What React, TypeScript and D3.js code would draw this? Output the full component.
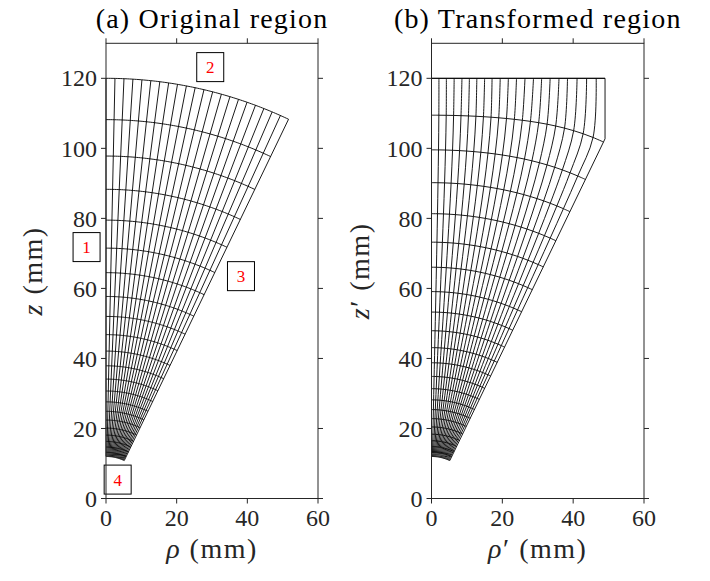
import React, { useMemo } from 'react';
import * as d3 from 'd3';

const WIDTH = 710;
const HEIGHT = 581;

// ---- Data ----
// radii of the constant-r arcs in the original region (mm), inner -> outer
const ARC_RADII = [12.0, 13.2, 14.7, 16.3, 18.1, 20.1, 22.4, 24.9, 27.6, 30.7, 34.1, 37.9, 42.1, 46.8, 52.0, 57.7, 64.5, 71.5, 79.5, 88.3, 97.8, 108.2, 120.0];
// polar angles of the rays (deg from the z axis)
const RAY_ANGLES_DEG = [0, 1.21, 2.43, 3.64, 4.86, 6.07, 7.29, 8.5, 9.71, 10.93, 12.14, 13.36, 14.57, 15.79, 17.0, 18.21, 19.43, 20.64, 21.86, 23.07, 24.29, 25.5];
// where the rays end on the flat top of the transformed region (mm)
const TOP_RHO_T = [0, 2.1, 4.2, 6.4, 8.6, 10.7, 12.8, 15.0, 17.1, 19.4, 21.7, 24.0, 26.4, 28.8, 31.1, 33.5, 36.0, 38.4, 41.1, 43.8, 46.5, 49.0];
const TOP_Z_T = 120;
const CYL_RHO_T = 49.0;

const X_TICKS = [0, 20, 40, 60];
const Y_TICKS = [0, 20, 40, 60, 80, 100, 120];

const REGION_LABELS = ['1', '2', '3', '4'];
const REGION_LABEL_RHO = [-5.5, 29.5, 38.2, 3.3];
const REGION_LABEL_Z = [71.8, 123.2, 63.5, 5.4];

const FONT = "'Liberation Serif', 'Times New Roman', 'DejaVu Serif', Times, serif";
const AXIS_COLOR = '#262626';

type Pt = [number, number];

function solveTransformed(): Pt[][] {
  const nI = ARC_RADII.length;
  const nJ = RAY_ANGLES_DEG.length;
  const th = RAY_ANGLES_DEG.map((d) => (d * Math.PI) / 180);
  const thm = th[nJ - 1];
  const xi = ARC_RADII.map((r) => Math.log(r));
  const dEta = thm / (nJ - 1);
  const b = 1 / (dEta * dEta);
  const rho: number[][] = [];
  const z: number[][] = [];
  for (let i = 0; i < nI; i++) {
    rho.push([]);
    z.push([]);
    for (let j = 0; j < nJ; j++) {
      rho[i].push(ARC_RADII[i] * Math.sin(th[j]));
      z[i].push(ARC_RADII[i] * Math.cos(th[j]));
    }
  }
  for (let j = 0; j < nJ; j++) {
    rho[nI - 1][j] = TOP_RHO_T[j];
    z[nI - 1][j] = TOP_Z_T;
  }
  const c0: Pt = [ARC_RADII[0] * Math.sin(thm), ARC_RADII[0] * Math.cos(thm)];
  const c1: Pt = [CYL_RHO_T, CYL_RHO_T / Math.tan(thm)];
  const c2: Pt = [CYL_RHO_T, TOP_Z_T];
  const projSeg = (p: Pt, a: Pt, q: Pt): Pt => {
    const dx = q[0] - a[0], dy = q[1] - a[1];
    let t = ((p[0] - a[0]) * dx + (p[1] - a[1]) * dy) / (dx * dx + dy * dy);
    t = Math.max(0, Math.min(1, t));
    return [a[0] + t * dx, a[1] + t * dy];
  };
  const proj = (p: Pt): Pt => {
    const p1 = projSeg(p, c0, c1);
    const p2 = projSeg(p, c1, c2);
    const d1 = (p1[0] - p[0]) ** 2 + (p1[1] - p[1]) ** 2;
    const d2 = (p2[0] - p[0]) ** 2 + (p2[1] - p[1]) ** 2;
    return d1 <= d2 ? p1 : p2;
  };
  for (let it = 0; it < 20000; it++) {
    for (let i = 1; i < nI - 1; i++) {
      const hp = xi[i + 1] - xi[i];
      const hm = xi[i] - xi[i - 1];
      const ap = 2 / (hp * (hp + hm));
      const am = 2 / (hm * (hp + hm));
      const den = ap + am + 2 * b;
      rho[i][0] = 0;
      z[i][0] = (ap * z[i + 1][0] + am * z[i - 1][0] + 2 * b * z[i][1]) / den;
      for (let j = 1; j < nJ - 1; j++) {
        rho[i][j] = (ap * rho[i + 1][j] + am * rho[i - 1][j] + b * (rho[i][j + 1] + rho[i][j - 1])) / den;
        z[i][j] = (ap * z[i + 1][j] + am * z[i - 1][j] + b * (z[i][j + 1] + z[i][j - 1])) / den;
      }
      const jl = nJ - 1;
      const ar = (ap * rho[i + 1][jl] + am * rho[i - 1][jl] + 2 * b * rho[i][jl - 1]) / den;
      const az = (ap * z[i + 1][jl] + am * z[i - 1][jl] + 2 * b * z[i][jl - 1]) / den;
      const p = proj([ar, az]);
      rho[i][jl] = p[0];
      z[i][jl] = p[1];
    }
  }
  const grid: Pt[][] = [];
  for (let i = 0; i < nI; i++) {
    grid.push([]);
    for (let j = 0; j < nJ; j++) grid[i].push([rho[i][j], z[i][j]]);
  }
  return grid;
}

interface PanelProps {
  x0: number;
  x1: number;
  title: string;
  prime: boolean;
  ylabelX: number;
  children: (sx: d3.ScaleLinear<number, number>, sy: d3.ScaleLinear<number, number>) => React.ReactNode;
}

const Y_TOP = 43.3;
const Y_BOT = 498.5;
const TICK = 5;

const txt = (size: number, extra: React.CSSProperties = {}): React.CSSProperties => ({
  fontFamily: FONT,
  fontSize: size,
  ...extra,
});

function Panel({ x0, x1, title, prime, ylabelX, children }: PanelProps) {
  const sx = d3.scaleLinear().domain([0, 60]).range([x0, x1]);
  const sy = d3.scaleLinear().domain([0, 130]).range([Y_BOT, Y_TOP]);
  const cx = (x0 + x1) / 2;
  const cy = (Y_TOP + Y_BOT) / 2;
  return (
    <g>
      {children(sx, sy)}
      <rect x={x0} y={Y_TOP} width={x1 - x0} height={Y_BOT - Y_TOP} fill="none" stroke={AXIS_COLOR} strokeWidth={1} />
      {X_TICKS.map((t) => (
        <g key={'xt' + t}>
          <line x1={sx(t)} x2={sx(t)} y1={Y_BOT} y2={Y_BOT + TICK} stroke={AXIS_COLOR} strokeWidth={1} />
          <line x1={sx(t)} x2={sx(t)} y1={Y_TOP} y2={Y_TOP - TICK} stroke={AXIS_COLOR} strokeWidth={1} />
          <text x={sx(t)} y={526} textAnchor="middle" style={txt(24)} fill={AXIS_COLOR}>
            {t}
          </text>
        </g>
      ))}
      {Y_TICKS.map((t) => (
        <g key={'yt' + t}>
          <line x1={x0 - TICK} x2={x0} y1={sy(t)} y2={sy(t)} stroke={AXIS_COLOR} strokeWidth={1} />
          <line x1={x1} x2={x1 + TICK} y1={sy(t)} y2={sy(t)} stroke={AXIS_COLOR} strokeWidth={1} />
          <text x={x0 - TICK - 4} y={sy(t)} dy="0.34em" textAnchor="end" style={txt(24)} fill={AXIS_COLOR}>
            {t}
          </text>
        </g>
      ))}
      <text x={cx} y={28} textAnchor="middle" style={txt(28, { letterSpacing: '1.2px' })} fill="#000">
        {title}
      </text>
      <text x={cx} y={558} textAnchor="middle" style={txt(28, { letterSpacing: '1.5px' })} fill={AXIS_COLOR}>
        <tspan style={{ fontStyle: 'italic' }}>ρ</tspan>
        {prime ? <tspan>′</tspan> : null}
        <tspan> (mm)</tspan>
      </text>
      <text
        transform={`translate(${ylabelX},${cy}) rotate(-90)`}
        textAnchor="middle"
        style={txt(28, { letterSpacing: '1.5px' })}
        fill={AXIS_COLOR}
      >
        <tspan style={{ fontStyle: 'italic' }}>z</tspan>
        {prime ? <tspan>′</tspan> : null}
        <tspan> (mm)</tspan>
      </text>
    </g>
  );
}

export default function App() {
  const grid = useMemo(() => solveTransformed(), []);
  const th = RAY_ANGLES_DEG.map((d) => (d * Math.PI) / 180);
  const thm = th[th.length - 1];
  const rMin = ARC_RADII[0];
  const rMax = ARC_RADII[ARC_RADII.length - 1];

  const drawOriginal = (sx: d3.ScaleLinear<number, number>, sy: d3.ScaleLinear<number, number>) => {
    const line = d3
      .line<Pt>()
      .x((d) => sx(d[0]))
      .y((d) => sy(d[1]));
    const arcSamples = d3.range(0, 81).map((k) => (thm * k) / 80);
    return (
      <g>
        {ARC_RADII.map((r, i) => (
          <path
            key={'a' + i}
            d={line(arcSamples.map((t) => [r * Math.sin(t), r * Math.cos(t)] as Pt)) || ''}
            fill="none"
            stroke="#000"
            strokeWidth={0.9}
          />
        ))}
        {th.map((t, j) => (
          <path
            key={'r' + j}
            d={line([
              [rMin * Math.sin(t), rMin * Math.cos(t)],
              [rMax * Math.sin(t), rMax * Math.cos(t)],
            ]) || ''}
            fill="none"
            stroke="#000"
            strokeWidth={0.9}
          />
        ))}
        {REGION_LABELS.map((lab, k) => {
          const px = sx(REGION_LABEL_RHO[k]);
          const py = sy(REGION_LABEL_Z[k]);
          return (
            <g key={'lab' + k}>
              <rect x={px - 13.5} y={py - 14.5} width={27} height={29} fill="#fff" stroke="#000" strokeWidth={1} />
              <text x={px} y={py} dy="0.35em" textAnchor="middle" style={txt(17)} fill="#ff0000">
                {lab}
              </text>
            </g>
          );
        })}
      </g>
    );
  };

  const drawTransformed = (sx: d3.ScaleLinear<number, number>, sy: d3.ScaleLinear<number, number>) => {
    const curve = d3
      .line<Pt>()
      .x((d) => sx(d[0]))
      .y((d) => sy(d[1]))
      .curve(d3.curveCatmullRom.alpha(0.5));
    const lin = d3
      .line<Pt>()
      .x((d) => sx(d[0]))
      .y((d) => sy(d[1]));
    const nI = grid.length;
    const nJ = grid[0].length;
    const outline: Pt[] = [
      [rMin * Math.sin(thm), rMin * Math.cos(thm)],
      [CYL_RHO_T, CYL_RHO_T / Math.tan(thm)],
      [CYL_RHO_T, TOP_Z_T],
      [0, TOP_Z_T],
    ];
    return (
      <g>
        {grid.map((row, i) => (
          <path key={'ta' + i} d={(i === nI - 1 ? lin(row) : curve(row)) || ''} fill="none" stroke="#000" strokeWidth={0.9} />
        ))}
        {d3.range(0, nJ - 1).map((j) => (
          <path
            key={'tr' + j}
            d={curve(grid.map((row) => row[j])) || ''}
            fill="none"
            stroke="#000"
            strokeWidth={0.9}
          />
        ))}
        <path d={lin(outline) || ''} fill="none" stroke="#000" strokeWidth={0.9} />
      </g>
    );
  };

  return (
    <svg
      width={WIDTH}
      height={HEIGHT}
      style={{ position: 'absolute', left: 0, top: 0, background: '#fff' }}
      xmlns="http://www.w3.org/2000/svg"
    >
      <rect x={0} y={0} width={WIDTH} height={HEIGHT} fill="#fff" />
      <Panel x0={106} x1={318} title="(a) Original region" prime={false} ylabelX={42}>
        {drawOriginal}
      </Panel>
      <Panel x0={431.5} x1={644} title="(b) Transformed region" prime={true} ylabelX={369}>
        {drawTransformed}
      </Panel>
    </svg>
  );
}
